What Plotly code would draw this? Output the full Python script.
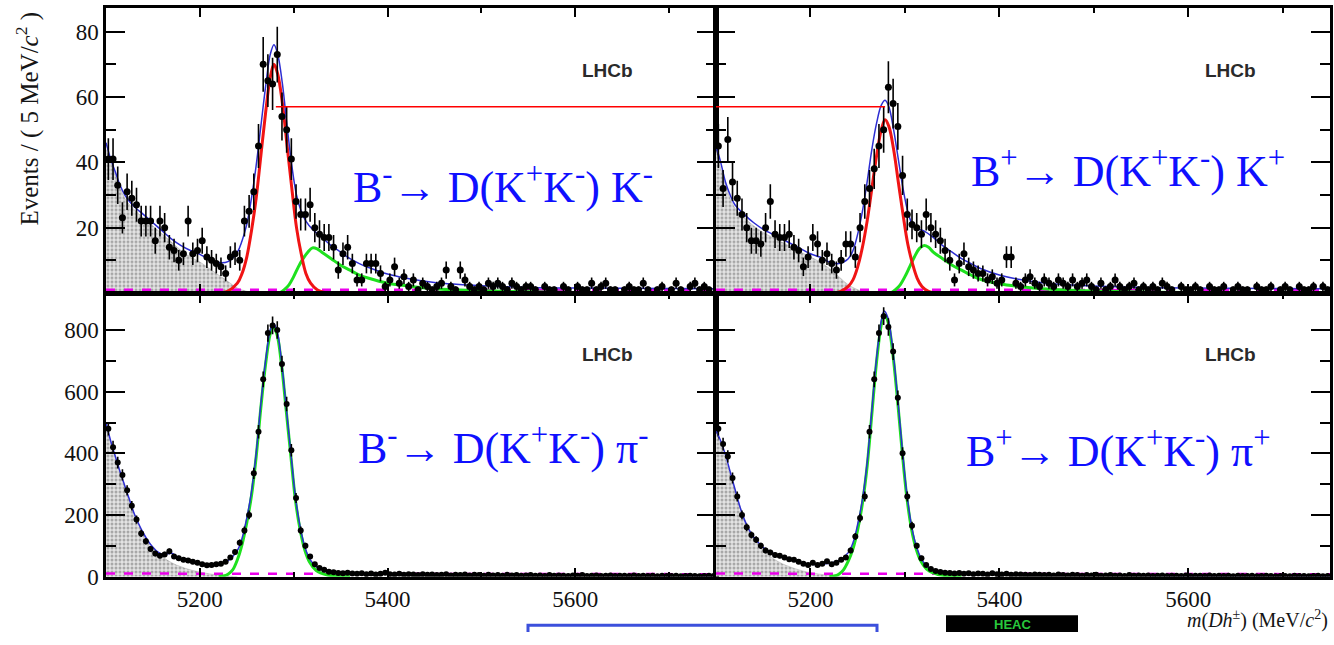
import plotly.graph_objects as go

# ---------------- data ----------------
BIN_START = 5102.5   # first 5 MeV bin centre
BIN_WIDTH = 5.0

# B- -> D(KK) K-   (top left)
tl_counts = [
    41, 41, 33, 23, 31, 29, 27, 22, 22, 22,
    16, 22, 20, 14, 13, 10, 12, 22, 12, 13,
    16, 11, 10, 9, 8, 6, 11, 12, 10, 22,
    25, 31, 45, 70, 65, 64, 73, 54, 50, 41,
    28, 24, 24, 27, 20, 18, 17, 17, 14, 7,
    12, 14, 9, 4, 4, 9, 9, 9, 6, 2,
    4, 8, 3, 5, 2, 4, 1, 3, 2, 1,
    2, 3, 7, 2, 1, 7, 4, 2, 1, 2,
    1, 3, 2, 3, 2, 1, 3, 2, 1, 2,
    2, 1, 0, 2, 1, 1, 0, 2, 1, 0,
    2, 1, 1, 3, 1, 2, 3, 1, 1, 0,
    1, 2, 1, 1, 3, 1, 0, 1, 2, 0,
    1, 3, 1, 0, 2, 3, 1, 2, 1, 0,
]
# B+ -> D(KK) K+   (top right)
tr_counts = [
    45, 32, 47, 34, 29, 24, 20, 16, 16, 15,
    20, 28, 18, 17, 17, 18, 14, 13, 8, 11,
    17, 15, 10, 12, 9, 7, 10, 15, 15, 11,
    20, 28, 32, 38, 45, 50, 63, 58, 51, 36,
    24, 21, 20, 18, 24, 20, 18, 16, 13, 10,
    4, 9, 12, 8, 7, 6, 6, 4, 5, 3,
    4, 11, 11, 3, 2, 4, 5, 3, 2, 4,
    3, 2, 4, 3, 2, 4, 2, 3, 4, 2,
    1, 3, 1, 2, 4, 2, 1, 2, 3, 1,
    2, 1, 2, 1, 3, 2, 1, 0, 2, 1,
    1, 2, 1, 0, 2, 1, 1, 2, 0, 1,
    2, 1, 1, 0, 2, 1, 1, 2, 0, 1,
    2, 1, 0, 2, 1, 1, 2, 0, 2, 1,
]
# B- -> D(KK) pi-  (bottom left)
bl_counts = [
    480, 420, 370, 330, 280, 230, 185, 140, 115, 90,
    75, 68, 72, 82, 65, 60, 55, 52, 48, 45,
    40, 37, 38, 40, 42, 48, 62, 80, 110, 150,
    200, 335, 470, 640, 790, 815, 800, 690, 560, 410,
    255, 150, 100, 65, 40, 28, 22, 16, 14, 12,
    11, 13, 10, 9, 11, 8, 10, 7, 9, 13,
    8, 7, 9, 6, 8, 7, 5, 8, 6, 7,
    5, 6, 8, 4, 6, 5, 7, 4, 6, 5,
    3, 6, 4, 5, 3, 6, 4, 5, 3, 4,
    5, 3, 4, 2, 5, 3, 4, 3, 2, 4,
    3, 5, 2, 3, 4, 2, 3, 4, 2, 3,
    3, 2, 4, 2, 3, 2, 3, 1, 3, 2,
    2, 3, 1, 2, 3, 2, 1, 2, 3, 2,
]
# B+ -> D(KK) pi+  (bottom right)
br_counts = [
    480, 430, 390, 320, 260, 200, 160, 135, 120, 100,
    85, 78, 70, 68, 62, 56, 55, 48, 42, 38,
    45, 38, 42, 50, 40, 45, 55, 62, 85, 130,
    190, 260, 470, 640, 790, 845, 810, 730, 580, 400,
    260, 165, 100, 60, 38, 25, 18, 15, 13, 12,
    10, 12, 9, 11, 8, 10, 9, 7, 11, 8,
    7, 9, 6, 8, 7, 6, 5, 7, 6, 5,
    6, 4, 7, 5, 4, 6, 5, 3, 5, 4,
    6, 3, 4, 5, 3, 4, 2, 5, 3, 4,
    3, 4, 2, 3, 4, 2, 3, 3, 2, 4,
    2, 3, 3, 2, 4, 2, 3, 2, 3, 1,
    3, 2, 2, 3, 1, 2, 3, 2, 1, 2,
    2, 1, 3, 2, 2, 1, 2, 3, 1, 2,
]

# ---- fit curves ----
tl_total_m = [5100, 5105, 5110, 5115, 5120, 5125, 5130, 5140, 5150, 5160, 5170, 5180, 5190, 5200, 5210, 5220,
              5230, 5240, 5245, 5250, 5255, 5260, 5265, 5270, 5275, 5279, 5283, 5288, 5293, 5298, 5303, 5308,
              5313, 5320, 5330, 5340, 5350, 5360, 5370, 5380, 5400, 5420, 5450, 5500, 5550, 5600, 5750]
tl_total_v = [46, 41, 37, 33, 30, 28, 26.5, 24, 21.5, 19, 16.5, 14.5, 13, 11.8, 10.3, 9.3,
              9.6, 12.5, 16, 21, 29, 39, 51, 63, 73, 76, 73, 64, 51, 39, 30, 25,
              22, 19.5, 17, 14.5, 12.5, 10.5, 9, 7.8, 5.8, 4.5, 3.2, 2.2, 1.7, 1.5, 1.3]
tr_total_m = [5100, 5105, 5110, 5115, 5120, 5130, 5140, 5150, 5160, 5170, 5180, 5190, 5200, 5210, 5220, 5230,
              5240, 5245, 5250, 5255, 5260, 5265, 5270, 5275, 5279, 5283, 5288, 5293, 5298, 5303, 5308, 5315,
              5320, 5330, 5340, 5350, 5360, 5370, 5380, 5400, 5420, 5450, 5500, 5550, 5600, 5750]
tr_total_v = [45, 40, 34, 30, 27, 24, 21.5, 19.5, 18, 16.5, 15, 13.5, 12, 11, 9.5, 9,
              10.5, 13, 18, 25, 34, 44, 52, 57.5, 59, 57, 50, 41, 32, 25, 21, 19.5,
              19, 17, 14.5, 12.5, 10.5, 9, 7.5, 5.5, 4.2, 3, 2.1, 1.7, 1.5, 1.3]

tl_sig_m = [5220, 5230, 5240, 5245, 5250, 5255, 5260, 5265, 5270, 5275, 5279, 5283, 5288, 5293, 5298, 5303,
            5308, 5313, 5318, 5325, 5335]
tl_sig_v = [0, 0.6, 3, 6, 11, 19, 29, 42, 55, 66, 70, 67, 58, 45, 32, 20,
            12, 6, 3, 1, 0]
tr_sig_m = [5225, 5232, 5240, 5245, 5250, 5255, 5260, 5265, 5270, 5275, 5279, 5283, 5288, 5293, 5298, 5303,
            5308, 5313, 5318, 5325, 5335]
tr_sig_v = [0, 0.5, 2, 4, 8, 14, 22, 32, 42, 50, 53, 51, 44, 34, 24, 15,
            9, 4.5, 2, 0.5, 0]

tl_misid_m = [5285, 5290, 5295, 5300, 5305, 5310, 5315, 5320, 5325, 5330, 5340, 5350, 5360, 5370, 5380,
              5400, 5420, 5450, 5500, 5550, 5600, 5750]
tl_misid_v = [0, 1, 2.5, 5, 8, 10.5, 12.5, 13.8, 13.5, 12.5, 10.5, 8.5, 7, 5.5, 4.5,
              3, 2.2, 1.3, 0.7, 0.35, 0.15, 0]
tr_misid_m = [5285, 5290, 5295, 5300, 5305, 5310, 5315, 5320, 5325, 5330, 5340, 5350, 5360, 5370, 5380,
              5400, 5420, 5450, 5500, 5550, 5600, 5750]
tr_misid_v = [0, 1, 2.5, 5, 8, 11, 13.5, 14.5, 14, 12.5, 10.5, 8.5, 7, 5.5, 4.2,
              2.8, 2, 1.2, 0.6, 0.3, 0.15, 0]

tl_prc_m = [5100, 5110, 5120, 5130, 5140, 5150, 5160, 5170, 5180, 5190, 5200, 5210, 5220, 5230, 5240, 5250, 5260]
tl_prc_v = [44, 36, 29, 25.5, 23, 20.5, 18, 15.5, 13, 11, 9.5, 7.5, 5.5, 3.5, 1.5, 0.5, 0]
tr_prc_m = [5100, 5110, 5120, 5130, 5140, 5150, 5160, 5170, 5180, 5190, 5200, 5210, 5220, 5230, 5240, 5250, 5260]
tr_prc_v = [44, 33, 26, 23, 20.5, 18.5, 17, 15.5, 14, 12.5, 11, 9.5, 7.5, 5, 2.5, 1, 0]

comb_m = [5100, 5750]
top_comb_v = [1.0, 0.9]
bot_comb_v = [10, 8]

bl_total_m = [5100, 5105, 5110, 5115, 5120, 5125, 5130, 5135, 5140, 5145, 5150, 5155, 5160, 5165, 5170, 5175,
              5180, 5190, 5200, 5210, 5220, 5230, 5240, 5245, 5250, 5255, 5260, 5265, 5270, 5275, 5278, 5282,
              5287, 5292, 5297, 5302, 5307, 5312, 5317, 5324, 5335, 5350, 5400, 5500, 5600, 5750]
bl_total_v = [500, 440, 390, 340, 295, 250, 205, 170, 140, 115, 95, 80, 72, 74, 76, 66,
              58, 50, 43, 40, 42, 52, 85, 125, 190, 275, 400, 560, 700, 800, 822, 800,
              700, 550, 400, 255, 160, 95, 58, 32, 18, 13, 9, 6, 4.5, 4]
br_total_m = [5100, 5105, 5110, 5115, 5120, 5125, 5130, 5135, 5140, 5145, 5150, 5160, 5170, 5180, 5190, 5200,
              5210, 5220, 5230, 5240, 5245, 5250, 5255, 5260, 5265, 5270, 5275, 5278, 5282, 5287, 5292, 5297,
              5302, 5307, 5312, 5317, 5324, 5335, 5350, 5400, 5500, 5600, 5750]
br_total_v = [475, 440, 395, 340, 285, 230, 185, 152, 128, 110, 94, 76, 64, 55, 46, 40,
              40, 43, 52, 78, 110, 170, 250, 370, 540, 710, 830, 862, 840, 740, 590, 420,
              270, 165, 100, 60, 32, 18, 12, 8, 5, 4, 3]

bl_sig_m = [5220, 5225, 5230, 5235, 5240, 5245, 5250, 5255, 5260, 5265, 5270, 5275, 5278, 5282, 5287, 5292,
            5297, 5302, 5307, 5312, 5317, 5324, 5335, 5350, 5360]
bl_sig_v = [0, 2, 8, 22, 55, 105, 175, 262, 388, 548, 688, 788, 810, 788, 688, 540,
            390, 245, 150, 85, 47, 20, 6, 1, 0]
br_sig_m = [5220, 5225, 5230, 5235, 5240, 5245, 5250, 5255, 5260, 5265, 5270, 5275, 5278, 5282, 5287, 5292,
            5297, 5302, 5307, 5312, 5317, 5324, 5335, 5350, 5360]
br_sig_v = [0, 2, 8, 22, 50, 90, 152, 238, 358, 528, 698, 818, 850, 828, 728, 578,
            408, 258, 154, 89, 50, 22, 7, 1.5, 0]

bl_prc_m = [5100, 5110, 5120, 5130, 5140, 5150, 5160, 5170, 5180, 5190, 5200, 5210, 5220, 5230, 5240]
bl_prc_v = [480, 385, 290, 205, 140, 95, 65, 45, 32, 22, 15, 9, 5, 2, 0]
br_prc_m = [5100, 5110, 5120, 5130, 5140, 5150, 5160, 5170, 5180, 5190, 5200, 5210, 5220, 5230, 5240]
br_prc_v = [470, 380, 280, 190, 125, 85, 60, 42, 30, 20, 13, 8, 4, 1.5, 0]

peak_ref_level = 57          # red reference line drawn at the B- peak height
peak_ref_left = [5281, 5750]
peak_ref_right = [5100, 5279]

x_ticks = [5200, 5400, 5600]
x_minor = [5300, 5500, 5700]
top_ticks = [20, 40, 60, 80]
top_minor = [10, 30, 50, 70]
bot_ticks = [0, 200, 400, 600, 800]
bot_minor = [100, 300, 500, 700]

labels = [
    "B<sup>-</sup>→ D(K<sup>+</sup>K<sup>-</sup>) K<sup>-</sup>",
    "B<sup>+</sup>→ D(K<sup>+</sup>K<sup>-</sup>) K<sup>+</sup>",
    "B<sup>-</sup>→ D(K<sup>+</sup>K<sup>-</sup>) π<sup>-</sup>",
    "B<sup>+</sup>→ D(K<sup>+</sup>K<sup>-</sup>) π<sup>+</sup>",
]

# ---------------- figure ----------------
BLUE = "rgb(45,45,210)"
RED = "rgb(240,20,20)"
GREEN = "rgb(30,225,30)"
MAGENTA = "rgb(235,0,235)"
SERIF = "Liberation Serif"

fig = go.Figure()


def centres(n):
    return [BIN_START + BIN_WIDTH * i for i in range(n)]


def add_panel(xa, ya, counts, total, sig, misid, prc, comb_v, msize, sig_color):
    # partially reconstructed background (hatched)
    fig.add_trace(go.Scatter(x=prc[0], y=prc[1], xaxis=xa, yaxis=ya, mode="lines",
                             line=dict(color="rgba(120,120,120,0.6)", width=0.5, shape="spline"),
                             fill="tozeroy", fillcolor="rgba(200,200,200,0.8)",
                             fillpattern=dict(shape=".", fgcolor="#6a6a6a", bgcolor="#e4e4e4",
                                              size=4, solidity=0.45),
                             hoverinfo="skip", showlegend=False))
    # combinatorial
    fig.add_trace(go.Scatter(x=comb_m, y=comb_v, xaxis=xa, yaxis=ya, mode="lines",
                             line=dict(color=MAGENTA, width=2.5, dash="dash"),
                             hoverinfo="skip", showlegend=False))
    if misid is not None:
        fig.add_trace(go.Scatter(x=misid[0], y=misid[1], xaxis=xa, yaxis=ya, mode="lines",
                                 line=dict(color=GREEN, width=3, shape="spline"),
                                 hoverinfo="skip", showlegend=False))
    fig.add_trace(go.Scatter(x=sig[0], y=sig[1], xaxis=xa, yaxis=ya, mode="lines",
                             line=dict(color=sig_color, width=3, shape="spline"),
                             hoverinfo="skip", showlegend=False))
    fig.add_trace(go.Scatter(x=total[0], y=total[1], xaxis=xa, yaxis=ya, mode="lines",
                             line=dict(color=BLUE, width=1.5, shape="spline"),
                             hoverinfo="skip", showlegend=False))
    ys = [c if c > 0 else None for c in counts]
    fig.add_trace(go.Scatter(x=centres(len(counts)), y=ys, xaxis=xa, yaxis=ya, mode="markers",
                             marker=dict(color="black", size=msize),
                             error_y=dict(type="sqrt", color="black", thickness=1.6, width=0),
                             showlegend=False))


add_panel("x", "y", tl_counts, (tl_total_m, tl_total_v), (tl_sig_m, tl_sig_v),
          (tl_misid_m, tl_misid_v), (tl_prc_m, tl_prc_v), top_comb_v, 7, RED)
add_panel("x2", "y2", tr_counts, (tr_total_m, tr_total_v), (tr_sig_m, tr_sig_v),
          (tr_misid_m, tr_misid_v), (tr_prc_m, tr_prc_v), top_comb_v, 7, RED)
add_panel("x3", "y3", bl_counts, (bl_total_m, bl_total_v), (bl_sig_m, bl_sig_v),
          None, (bl_prc_m, bl_prc_v), bot_comb_v, 6, GREEN)
add_panel("x4", "y4", br_counts, (br_total_m, br_total_v), (br_sig_m, br_sig_v),
          None, (br_prc_m, br_prc_v), bot_comb_v, 6, GREEN)

# red reference line across the two top panels
fig.add_trace(go.Scatter(x=peak_ref_left, y=[peak_ref_level] * 2, xaxis="x", yaxis="y", mode="lines",
                         line=dict(color="red", width=1.5), hoverinfo="skip", showlegend=False))
fig.add_trace(go.Scatter(x=peak_ref_right, y=[peak_ref_level] * 2, xaxis="x2", yaxis="y2", mode="lines",
                         line=dict(color="red", width=1.5), hoverinfo="skip", showlegend=False))

W, H = 1334, 645   # reference picture size; the figure fills the browser window
XL = [106 / W, 716 / W]
XR = [716 / W, 1330 / W]
YT = [1 - 299 / H, 1 - 8 / H]
YB = [1 - 588.5 / H, 1 - 300 / H]

common = dict(showline=True, linecolor="black", linewidth=2.5, mirror="ticks", ticks="inside",
              tickcolor="black", tickwidth=2, showgrid=False, zeroline=False,
              tickfont=dict(family=SERIF, size=23, color="#111111"))


def xax(domain, anchor, labels_on):
    d = dict(common)
    d.update(domain=domain, anchor=anchor, range=[5100, 5750], tickmode="array", tickvals=x_ticks,
             ticklen=9, showticklabels=labels_on,
             minor=dict(tickmode="array", tickvals=x_minor, ticklen=5, ticks="inside",
                        tickcolor="black", tickwidth=1.5))
    return d


def yax(domain, anchor, rng, tv, mv, labels_on):
    d = dict(common)
    d.update(domain=domain, anchor=anchor, range=rng, tickmode="array", tickvals=tv,
             ticklen=19, showticklabels=labels_on,
             minor=dict(tickmode="array", tickvals=mv, ticklen=10, ticks="inside",
                        tickcolor="black", tickwidth=2))
    return d


fig.update_layout(
    autosize=True,
    margin=dict(l=0, r=0, t=0, b=0, pad=0),
    paper_bgcolor="white", plot_bgcolor="white",
    xaxis=xax(XL, "y", False),
    xaxis2=xax(XR, "y2", False),
    xaxis3=xax(XL, "y3", True),
    xaxis4=xax(XR, "y4", True),
    yaxis=yax(YT, "x", [0, 87.3], top_ticks, top_minor, True),
    yaxis2=yax(YT, "x2", [0, 87.3], top_ticks, top_minor, False),
    yaxis3=yax(YB, "x3", [0, 917], bot_ticks, bot_minor, True),
    yaxis4=yax(YB, "x4", [0, 917], bot_ticks, bot_minor, False),
)

ann = []
label_pos = [(503, 188), (1128, 172), (503, 455), (1118, 458)]
for txt, (px, py) in zip(labels, label_pos):
    ann.append(dict(text=txt, x=px / W, y=1 - py / H, xref="paper", yref="paper",
                    xanchor="center", yanchor="middle", showarrow=False,
                    font=dict(family=SERIF, size=44, color="rgb(15,15,255)")))
for px, py in [(607, 72), (1230, 72), (607, 362), (1230, 362)]:
    ann.append(dict(text="<b>LHCb</b>", x=px / W, y=1 - py / H, xref="paper", yref="paper",
                    xanchor="center", yanchor="middle", showarrow=False,
                    font=dict(family="Liberation Sans", size=19, color="#2a2a2a")))
ann.append(dict(text="Events / ( 5 MeV/<i>c</i><sup>2</sup> )", textangle=-90,
                x=28 / W, y=1 - 121 / H, xref="paper", yref="paper",
                xanchor="center", yanchor="middle", showarrow=False,
                font=dict(family=SERIF, size=25, color="#151515")))
ann.append(dict(text="<i>m</i>(<i>Dh</i><sup>±</sup>) (MeV/<i>c</i><sup>2</sup>)",
                x=1330 / W, y=1 - 632 / H, xref="paper", yref="paper",
                xanchor="right", yanchor="middle", showarrow=False,
                font=dict(family=SERIF, size=20, color="#151515")))
ann.append(dict(text="<b>HEAC</b>", x=1012 / W, y=1 - 637 / H, xref="paper", yref="paper",
                xanchor="center", yanchor="middle", showarrow=False,
                font=dict(family="Liberation Sans", size=13, color="rgb(40,200,60)")))
fig.update_layout(annotations=ann)

# open-bottomed blue frame (continues below the picture) and black logo block
fig.add_shape(type="path", xref="paper", yref="paper",
              path=f"M {528 / W},0 L {528 / W},{1 - 638 / H} L {877 / W},{1 - 638 / H} L {877 / W},0",
              line=dict(color="rgb(60,80,220)", width=3), layer="below")
fig.add_shape(type="rect", xref="paper", yref="paper", x0=946 / W, x1=1078 / W, y0=0, y1=1 - 628 / H,
              line=dict(color="black", width=0), fillcolor="black", layer="below")

page_fix = (
    "var s=document.createElement('style');"
    "s.textContent='html,body{margin:0;padding:0;overflow:hidden;}';"
    "document.head.appendChild(s);"
    "Plotly.Plots.resize(document.getElementById('{plot_id}'));"
)
fig.write_html("out.html", config={"displayModeBar": False, "responsive": True},
               default_width="100vw", default_height="100vh", post_script=page_fix)
